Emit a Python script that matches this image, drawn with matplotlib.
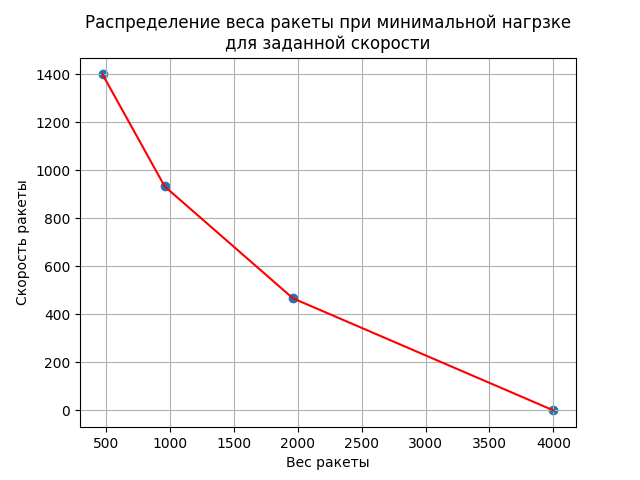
import matplotlib

matplotlib.use("Agg")
import matplotlib.pyplot as plt

rocket_mass = [476, 962, 1964, 4000]
rocket_speed = [1400, 933, 467, 0]

fig, ax = plt.subplots(figsize=(6.4, 4.8), dpi=100)
ax.scatter(rocket_mass, rocket_speed)
ax.plot(rocket_mass, rocket_speed, color="red")
ax.set_title("Распределение веса ракеты при минимальной нагрзке\nдля заданной скорости")
ax.set_xlabel("Вес ракеты")
ax.set_ylabel("Скорость ракеты")
ax.grid(True)
fig.savefig("out.png")
